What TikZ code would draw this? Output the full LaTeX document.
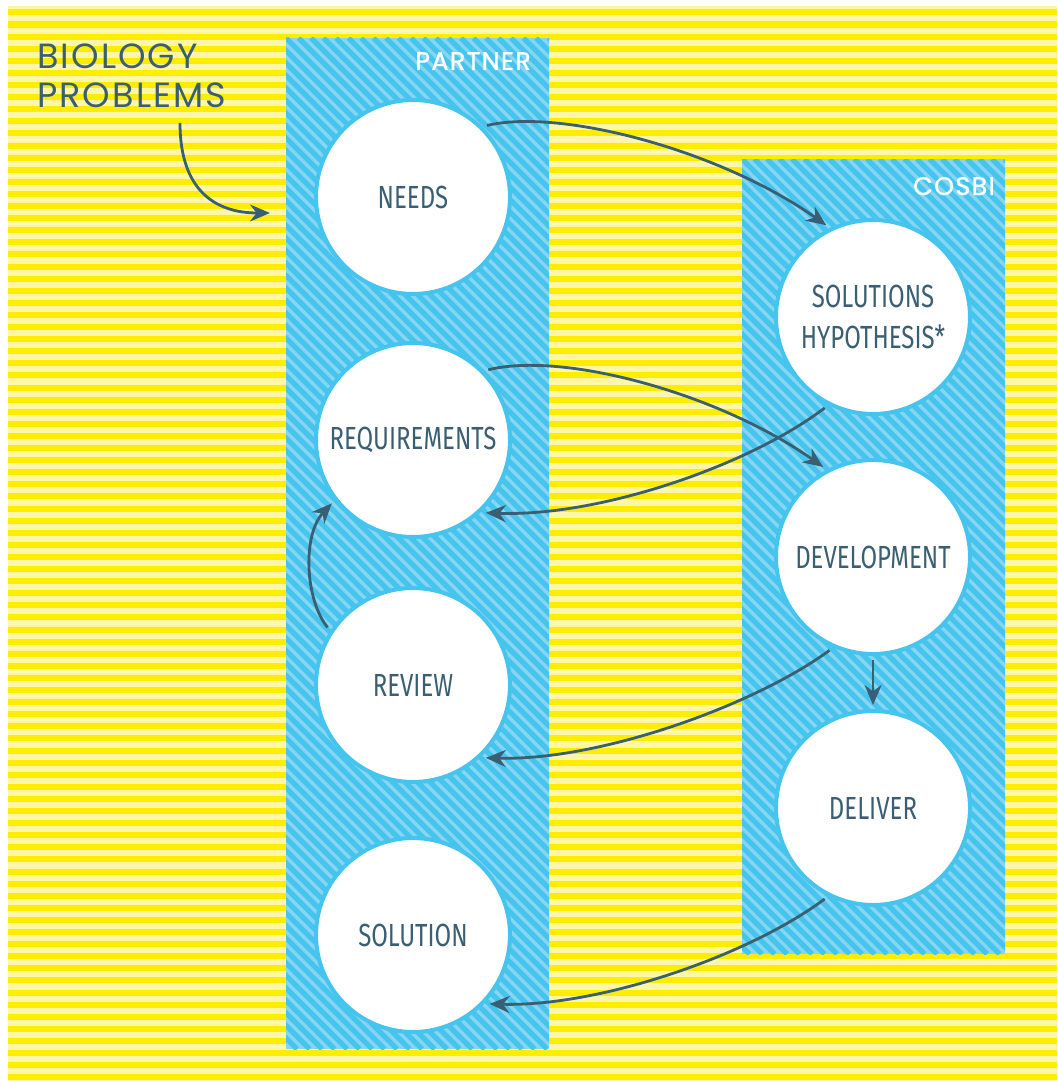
\documentclass[tikz,border=0pt]{standalone}
\usepackage{fontspec}
\setmainfont{Fira Sans}
\newfontfamily\condfont[FakeStretch=0.75]{Fira Sans}
\newfontfamily\geofont[LetterSpace=6]{Poppins}
\newfontfamily\headfont[LetterSpace=5,FakeBold=1.2]{Poppins}
\usetikzlibrary{arrows.meta,calc}
\definecolor{ylw}{HTML}{FFED00}
\definecolor{ylwlt}{HTML}{FFF6A8}
\definecolor{blu}{HTML}{86D5F3}
\definecolor{bluedk}{HTML}{45C4EE}
\definecolor{ink}{HTML}{3A5F73}
\begin{document}
\begin{tikzpicture}[x=1pt,y=-1pt,
  circ/.style={circle, fill=white, draw=bluedk, line width=4pt, minimum size=194pt, inner sep=0pt, outer sep=6pt, font=\condfont\fontsize{32}{41}\selectfont, text=ink, align=center},
  flow/.style={draw=ink, line width=2.8pt, -{Stealth[length=20pt,width=17pt]}},
  colhead/.style={font=\headfont\fontsize{25.5}{30}\selectfont, text=white, anchor=base east, inner sep=0pt},
  biotext/.style={font=\geofont\fontsize{35}{40}\selectfont, text=ink, anchor=base west, inner sep=0pt}]
\useasboundingbox (0,0) rectangle (1057,1081);
% background
\fill[white] (0,0) rectangle (1057,1081);
\fill[ylwlt] (8,6) rectangle (1057,1081);
\foreach \k in {0,...,88} \fill[ylw] (8,{9.4+12.1*\k}) rectangle (1057,{15.45+12.1*\k});
% partner panel
\begin{scope}
\clip (286,38) rectangle (549,1049);
\fill[blu] (286,38) rectangle (549,1049);
\foreach \k in {-82,...,22} \draw[bluedk, line width=5pt] ({286+12.5*\k},38) -- ++(1011,1011);
\end{scope}
% cosbi panel
\begin{scope}
\clip (742,159) rectangle (1005,954);
\fill[blu] (742,159) rectangle (1005,954);
\foreach \k in {-65,...,22} \draw[bluedk, line width=5pt] ({742+12.5*\k},159) -- ++(795,795);
\end{scope}
% labels
\node[colhead] (partnerlbl) at (531,70) {PARTNER};
\node[colhead] (cosbilbl) at (995,195) {COSBI};
\node[biotext] (bio1) at (37,69) {BIOLOGY};
\node[biotext] (bio2) at (37,107) {PROBLEMS};
% circles
\node[circ] (needs) at (413,197) {NEEDS};
\node[circ] (req) at (413,440) {REQUIREMENTS};
\node[circ] (rev) at (413,685) {REVIEW};
\node[circ] (sol) at (413,935) {SOLUTION};
\node[circ] (hyp) at (873,317) {SOLUTIONS\\HYPOTHESIS*};
\node[circ] (dev) at (873,557) {DEVELOPMENT};
\node[circ] (del) at (873,808) {DELIVER};
% connectors
\coordinate (bstart) at (180,123);
\coordinate (bend) at (270,213);
\draw[flow] (bstart) .. controls (180,190) and (215,213) .. (bend);
\draw[flow] (needs.44) .. controls (560,108) and (720,150) .. (hyp.117);
\draw[flow] (req.43) .. controls (564,351) and (720,394) .. (dev.119);
\draw[flow] (hyp.-118) .. controls (750,465) and (600,517) .. (req.-45);
\draw[flow] (dev.-115) .. controls (755,705) and (600,761) .. (rev.-45);
\draw[flow] (del.-118) .. controls (750,955) and (600,1007) .. (sol.-42);
\draw[flow] (dev.south) -- (del.north);
\draw[flow] (rev.146) .. controls (305,600) and (302,535) .. (req.-142);
\end{tikzpicture}
\end{document}
